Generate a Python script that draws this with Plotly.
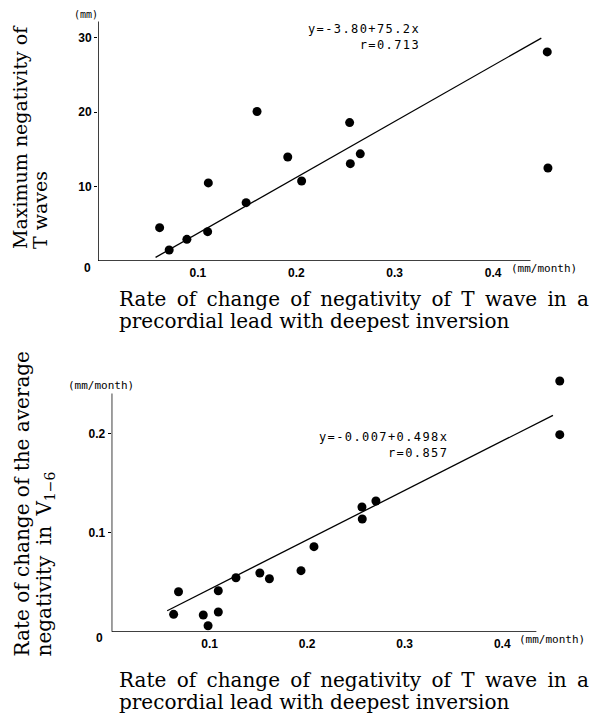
import plotly.graph_objects as go

W, H = 594, 717

# ---------------- data ----------------
top_x = [0.0611, 0.0708, 0.0888, 0.1099, 0.1106, 0.149, 0.1601, 0.1913, 0.2054, 0.2542, 0.2549, 0.265, 0.455, 0.4557]
top_y = [4.48, 1.48, 2.91, 3.94, 10.5, 7.84, 20.1, 13.98, 10.75, 18.6, 13.08, 14.4, 28.1, 12.5]
top_intercept, top_slope = -3.80, 75.2
top_fit_x = [0.057, 0.449]
top_eq = ["y=-3.80+75.2x", "r=0.713"]

bot_x = [0.0631, 0.0681, 0.0935, 0.0984, 0.1089, 0.1089, 0.127, 0.1515, 0.1613, 0.1937, 0.207, 0.2562, 0.2565, 0.2705, 0.459, 0.459]
bot_y = [0.0175, 0.0403, 0.0168, 0.006, 0.0413, 0.0199, 0.0544, 0.0592, 0.0534, 0.0615, 0.0857, 0.1257, 0.1136, 0.1318, 0.2527, 0.1986]
bot_intercept, bot_slope = -0.007, 0.498
bot_fit_x = [0.0565, 0.452]
bot_eq = ["y=-0.007+0.498x", "r=0.857"]

x_tickvals = [0.1, 0.2, 0.3, 0.4]
x_ticktext = ["0.1", "0.2", "0.3", "0.4"]
top_y_tickvals = [10, 20, 30]
top_y_ticktext = ["10", "20", "30"]
bot_y_tickvals = [0.1, 0.2]
bot_y_ticktext = ["0.1", "0.2"]

x_title = ["Rate of change of negativity of T wave in a",
           "precordial lead with deepest inversion"]
top_y_title = ["Maximum negativity of", "T waves"]
bot_y_title = ["Rate of change of the average", "negativity in V<sub>1\u22126</sub>"]

# axis extents (as drawn in the original)
top_xrange = [-0.0015, 0.47]
top_yrange = [0, 33]
top_axis_xend, top_axis_yend = 0.438, 32.2
bot_xrange = [-0.0005, 0.47]
bot_yrange = [0, 0.26]
bot_axis_xend, bot_axis_yend = 0.435, 0.240


def px(x):
    return x / W


def py(y):
    return 1 - y / H


fig = go.Figure()

marker = dict(color="black", size=9)
fig.add_trace(go.Scatter(x=top_x, y=top_y, mode="markers", marker=marker,
                         cliponaxis=False, xaxis="x", yaxis="y", showlegend=False))
fig.add_trace(go.Scatter(x=top_fit_x, y=[top_intercept + top_slope * v for v in top_fit_x],
                         mode="lines", line=dict(color="black", width=1.3),
                         xaxis="x", yaxis="y", showlegend=False))
fig.add_trace(go.Scatter(x=bot_x, y=bot_y, mode="markers", marker=marker,
                         cliponaxis=False, xaxis="x2", yaxis="y2", showlegend=False))
fig.add_trace(go.Scatter(x=bot_fit_x, y=[bot_intercept + bot_slope * v for v in bot_fit_x],
                         mode="lines", line=dict(color="black", width=1.3),
                         xaxis="x2", yaxis="y2", showlegend=False))

tickfont = dict(family="Liberation Sans", size=12, color="black", weight="bold")


def xaxis(domain, rng, anchor):
    return dict(domain=domain, range=rng, anchor=anchor, showgrid=False, zeroline=False,
                showline=False, ticks="", tickvals=x_tickvals, ticktext=x_ticktext,
                tickfont=tickfont, ticklabelstandoff=3, fixedrange=True)


def yaxis(domain, rng, anchor, tv, tt):
    return dict(domain=domain, range=rng, anchor=anchor, showgrid=False, zeroline=False,
                showline=False, ticks="outside", ticklen=3, tickwidth=1, tickcolor="black",
                tickvals=tv, ticktext=tt, tickfont=tickfont, fixedrange=True)


fig.update_layout(
    width=W, height=H,
    margin=dict(l=0, r=0, t=0, b=0),
    paper_bgcolor="white", plot_bgcolor="white",
    xaxis=xaxis([px(98.02), px(562.0)], top_xrange, "y"),
    yaxis=yaxis([py(261), py(15.48)], top_yrange, "x", top_y_tickvals, top_y_ticktext),
    xaxis2=xaxis([px(111.6), px(570.5)], bot_xrange, "y2"),
    yaxis2=yaxis([py(631.7), py(373.78)], bot_yrange, "x2", bot_y_tickvals, bot_y_ticktext),
)

# axis lines
line = dict(color="black", width=1.5)
fig.add_shape(type="line", xref="x", yref="y", x0=top_xrange[0], x1=top_axis_xend, y0=0, y1=0, line=line)
fig.add_shape(type="line", xref="x", yref="y", x0=top_xrange[0], x1=top_xrange[0], y0=0, y1=top_axis_yend, line=line)
fig.add_shape(type="line", xref="x2", yref="y2", x0=bot_xrange[0], x1=bot_axis_xend, y0=0, y1=0, line=line)
fig.add_shape(type="line", xref="x2", yref="y2", x0=bot_xrange[0], x1=bot_xrange[0], y0=0, y1=bot_axis_yend, line=line)

mono = dict(family="DejaVu Sans Mono", size=11, color="black")
eqfont = dict(family="DejaVu Sans Mono", size=12, color="black")
serif = dict(family="DejaVu Serif", size=20, color="black")
serif19 = dict(family="DejaVu Serif", size=19, color="black")


def ann(text, x, y, xa="left", ya="middle", font=None, angle=0, align="left"):
    fig.add_annotation(text=text, x=px(x), y=py(y), xref="paper", yref="paper",
                       xanchor=xa, yanchor=ya, showarrow=False, font=font,
                       textangle=angle, borderpad=0, align=align)


def spaced(s):
    return '<span style="letter-spacing:1.4px">' + s + '</span>'


# unit labels and origin zeros
ann("(mm)", 73, 14, font=dict(family="DejaVu Sans Mono", size=10, color="black"))
ann("0", 87, 268, xa="center", font=tickfont)
ann("(mm/month)", 510, 268, font=mono)
ann("(mm/month)", 67, 385, font=mono)
ann("0", 99, 638, xa="center", font=tickfont)
ann("(mm/month)", 518, 639, font=mono)

# equations
ann(spaced(top_eq[0]) + "<br>" + spaced(top_eq[1]), 421, 21, xa="right", ya="top",
    font=eqfont, align="right")
ann(spaced(bot_eq[0]) + "<br>" + spaced(bot_eq[1]), 449, 429, xa="right", ya="top",
    font=eqfont, align="right")

# x titles (first line justified in the original -> slightly wider word gaps)
wide = " \u2009".join(x_title[0].split(" "))
ann(wide, 118, 299, font=serif)
ann(x_title[1], 118, 321, font=serif)
ann(wide, 118, 680, font=serif)
ann(x_title[1], 118, 702, font=serif)

# y titles (rotated)
ann(top_y_title[0], 20, 250, xa="center", ya="bottom", font=serif19, angle=-90)
ann(top_y_title[1], 40, 250, xa="center", ya="bottom", font=serif19, angle=-90)
ann(bot_y_title[0], 21, 658, xa="center", ya="bottom", font=serif, angle=-90)
ann(" \u2009".join(bot_y_title[1].split(" ")), 44, 658, xa="center", ya="bottom",
    font=serif, angle=-90)

fig.write_html("out.html")
